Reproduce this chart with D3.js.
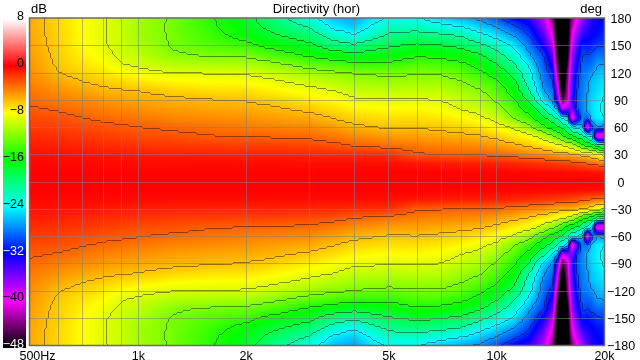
<!DOCTYPE html>
<html><head><meta charset="utf-8">
<script src="https://cdn.jsdelivr.net/npm/d3@7"></script>
<style>
html,body{margin:0;padding:0;background:#fff;overflow:hidden}
#wrap{position:relative;width:640px;height:360px}
canvas,svg{position:absolute;left:0;top:0}
text{font-family:"Liberation Sans",sans-serif;fill:#000}
</style></head><body><div id="wrap"><canvas id="heat" width="640" height="360"></canvas><svg id="chart" width="640" height="360"></svg></div>
<script>
const chartTitle = "Directivity (hor)";
const freqs = [500,600,700,800,900,1000,1250,1600,2000,2300,3000,3500,4000,4500,5000,6000,7000,8000,9000,10000,11200,12400,13600,14350,14800,15300,15800,16300,16850,17400,18000,18500,19150,20000];
const angles = [0,10,20,30,40,50,60,70,80,90,100,110,120,130,140,150,160,170,180];
const freqTicks = [500,1000,2000,5000,10000,20000];
const freqTickLabels = ["500Hz","1k","2k","5k","10k","20k"];
const freqGrid = [600,700,800,900,1000,2000,3000,4000,5000,6000,7000,8000,9000,10000];
const angleTicks = [180,150,120,90,60,30,0,-30,-60,-90,-120,-150,-180];
const dbTicks = [8,0,-8,-16,-24,-32,-40,-48];
const whiteDbLabels = [-32,-48];
const contourLevels = [-3,-6,-9,-12,-15,-18,-21,-24,-27,-30];
const colorStops = [8,0,-8,-16,-24,-32,-40,-48];
const colorValues = ["#ffffff","#ff0000","#ffff00","#00ff00","#00ffff","#0000ff","#ff00ff","#000000"];
// level in dB, one list per frequency, angle 0..180 in 10 degree steps
const levels = [
[0,-.05,-.2,-.5,-.9,-1.3,-1.8,-2.3,-2.8,-3.3,-3.7,-4.1,-4.4,-4.7,-4.9,-5.1,-5.2,-5.3,-5.3],
[0,-.05,-.25,-.55,-1,-1.5,-2,-2.5,-3.15,-3.9,-4.5,-5.2,-5.95,-6.3,-6.5,-6.6,-6.7,-6.75,-6.8],
[0,-.05,-.25,-.65,-1.2,-1.7,-2.3,-2.95,-3.6,-4.3,-5.1,-5.95,-6.7,-7.2,-7.6,-7.9,-8,-8,-8],
[0,-.05,-.3,-.75,-1.3,-1.9,-2.55,-3.3,-4,-4.8,-5.6,-6.4,-7.2,-7.9,-8.5,-8.8,-8.9,-8.9,-8.8],
[0,-.05,-.3,-.8,-1.4,-2.1,-2.75,-3.5,-4.3,-5.1,-5.8,-6.8,-7.9,-8.95,-9.4,-9.7,-9.8,-9.8,-9.7],
[0,-.05,-.35,-.9,-1.6,-2.3,-2.95,-3.7,-4.5,-5.25,-6,-7.2,-8.4,-9.4,-10,-10.5,-10.8,-10.8,-10.7],
[0,-.05,-.35,-1,-1.8,-2.5,-3.3,-4.2,-4.9,-5.6,-6.6,-7.8,-8.95,-10.4,-11.7,-12.2,-12.3,-12.4,-12.3],
[0,-.05,-.35,-1.05,-1.9,-2.9,-3.6,-4.4,-5.2,-5.9,-7,-8,-9.1,-10.7,-12.3,-13.4,-14.1,-14.6,-14.8],
[0,-.05,-.35,-1.05,-2,-3.05,-3.9,-4.6,-5.4,-6.1,-7.1,-8.1,-9.2,-10.8,-12.5,-14.2,-15.8,-16.6,-17],
[0,-.05,-.35,-1.05,-2,-3.1,-4,-4.9,-5.6,-6.45,-7.5,-8.5,-9.7,-11.4,-13.4,-15.6,-17.2,-18.4,-19.5],
[0,-.05,-.4,-1.15,-2.2,-3.3,-4.35,-5.3,-6.35,-7.35,-8.35,-9.55,-11.05,-13,-15.5,-17.3,-19.2,-21.1,-23],
[0,-.05,-.4,-1.2,-2.5,-3.8,-4.9,-6,-6.97,-7.95,-8.9,-10.25,-11.6,-13.8,-16.6,-19.5,-22,-24.4,-25.8],
[0,-.05,-.4,-1.3,-3.05,-4.35,-5.6,-6.65,-7.65,-8.65,-9.8,-10.9,-12.1,-14.55,-17.25,-20.45,-23.5,-25.5,-26.8],
[0,-.05,-.45,-1.35,-3.3,-4.6,-5.9,-6.85,-7.85,-8.75,-9.9,-11.05,-12.3,-14.6,-16.9,-19.1,-21.8,-23.6,-24.9],
[0,-.05,-.45,-1.4,-3.55,-4.85,-6.2,-7.05,-8,-8.9,-10.1,-11.2,-12.55,-14.6,-16.5,-18.3,-20.3,-22,-23.6],
[0,-.05,-.7,-2.8,-3.9,-5.05,-6.1,-7,-7.9,-8.8,-9.9,-11.05,-12.2,-13.7,-15.35,-17.4,-19.65,-21.9,-23.8],
[0,-.1,-.8,-2.95,-4.15,-5.3,-6.4,-7.3,-8.15,-9.05,-10.1,-11.2,-12.2,-13.8,-15.8,-17.9,-20.1,-22.9,-25.4],
[0,-.1,-.9,-3.1,-4.3,-5.55,-6.7,-7.75,-9.05,-9.9,-10.9,-11.9,-13.05,-14.6,-16.5,-18.6,-21,-23.8,-26.4],
[0,-.1,-.9,-3.1,-4.45,-5.8,-7.2,-8.55,-9.7,-10.7,-11.7,-13.05,-14.55,-16.1,-17.75,-20.25,-22.95,-25.3,-27.5],
[0,-.15,-1,-3.3,-4.9,-6.45,-8.05,-9.6,-11,-12.3,-13.45,-14.65,-16.2,-17.9,-20,-22.2,-24.65,-26.9,-29.5],
[0,-.15,-1.2,-3.65,-5.55,-7.45,-9.35,-12,-13.35,-14.7,-16.05,-17.45,-19,-20.9,-22.7,-24.5,-26.9,-29.2,-32],
[0,-.2,-1.4,-4.2,-6.3,-8.2,-11.3,-14.1,-16.4,-18.7,-21.25,-22.6,-23.45,-24.9,-26.9,-28.4,-29.95,-31.6,-33.5],
[0,-.25,-1.6,-4.5,-7.2,-10.2,-14.3,-17.5,-20.7,-25.3,-27,-28,-28.8,-29.5,-30.3,-32.5,-34.5,-36.5,-38],
[0,-.3,-1.8,-5,-7.8,-11.6,-16.3,-19.5,-24.7,-27.6,-28.6,-29.6,-31,-33,-35,-37.5,-40,-42,-44],
[0,-.3,-1.9,-5.2,-8.4,-12.7,-17.6,-21.5,-27,-34,-37,-40,-43,-45,-47,-48,-50,-50,-50],
[0,-.3,-2,-5.5,-8.9,-14.2,-18.7,-23.7,-38,-46,-50,-52,-53,-54,-55,-55,-55,-55,-55],
[0,-.35,-2.1,-5.3,-9.6,-16.2,-20.5,-26,-36,-42,-43,-44,-45,-47,-49,-50,-50,-50,-50],
[0,-.35,-2.3,-5.5,-10.7,-17,-24,-42,-36,-33,-33.5,-34,-35,-36,-37,-38.5,-40,-42,-44],
[0,-.35,-2.5,-5.8,-12.2,-18.8,-24.5,-34,-29.5,-29.4,-29.6,-30.2,-31,-32,-33,-34.5,-36,-38,-40],
[0,-.4,-2.7,-6.5,-14.5,-20.3,-26.5,-28,-28,-27.8,-28,-28.2,-28.5,-29,-29.8,-31,-33,-35,-37],
[0,-.4,-3,-6.7,-16,-22.5,-42,-29,-26,-26.5,-27,-27.3,-28,-29,-30,-31.5,-32.5,-33.5,-34.5],
[0,-.45,-3.3,-7.5,-17,-25,-30,-25.5,-25,-25.2,-25.7,-26,-27.2,-28.5,-29.5,-31,-32,-32.5,-33],
[0,-.5,-3.5,-8.3,-20,-42,-27,-24.5,-24.3,-24.5,-25,-25.4,-26.2,-27.2,-28.6,-30.2,-31.5,-32,-32.5],
[0,-.6,-4,-9.7,-20.7,-42,-28,-24,-23.5,-23.7,-24.3,-24.8,-25.5,-27,-28.7,-30,-31,-31.5,-32]
];

const x = d3.scaleLog().domain([500,20000]).range([30,604]);
const y = d3.scaleLinear().domain([180,-180]).range([18,345]);
const barY = d3.scaleLinear().domain([8,-48]).range([19,347]);
const barLabelY = d3.scaleLinear().domain([8,-48]).range([19.3,347.3]);
const color = d3.scaleLinear().domain(colorStops).range(colorValues).clamp(true);

const logF = freqs.map(Math.log);
function level(px,py){
  const lf = Math.log(x.invert(px));
  const a = Math.min(180,Math.abs(y.invert(py)));
  let i = d3.bisectRight(logF,lf)-1; i = Math.max(0,Math.min(freqs.length-2,i));
  const t = Math.max(0,Math.min(1,(lf-logF[i])/(logF[i+1]-logF[i])));
  let j = Math.min(angles.length-2,Math.floor(a/10));
  const u = (a-angles[j])/(angles[j+1]-angles[j]);
  const a0 = levels[i][j]*(1-t)+levels[i+1][j]*t;
  const a1 = levels[i][j+1]*(1-t)+levels[i+1][j+1]*t;
  return a0*(1-u)+a1*u;
}

// heat map
const [x0,x1] = x.range(), [y0,y1] = y.range();
const ctx = document.getElementById("heat").getContext("2d");
ctx.fillStyle="#fff"; ctx.fillRect(0,0,640,360);
for(let px=x0;px<x1+1;px++){
  for(let py=y0;py<y1+1;py++){
    ctx.fillStyle = color(level(px+.5,py+.5));
    ctx.fillRect(px,py,1,1);
  }
}
// colour bar
for(let py=19;py<348;py++){
  ctx.fillStyle = color(barY.invert(py+.5));
  ctx.fillRect(3,py,23,1);
}

const svg = d3.select("#chart");
svg.append("defs").append("clipPath").attr("id","plot").append("rect")
  .attr("x",x0).attr("y",y0).attr("width",x1-x0+1).attr("height",y1-y0+1);

// contours: the grid is padded so the outer rim falls outside the clip
const cell = 2;
const pad = 2;
const gw = Math.ceil((x1-x0)/cell)+pad*2+1, gh = Math.ceil((y1-y0)/cell)+pad*2+1;
const field = new Float64Array(gw*gh);
for(let r=0;r<gh;r++)for(let c=0;c<gw;c++){
  const px = Math.max(x0,Math.min(x1,x0+(c-pad+.5)*cell));
  const py = Math.max(y0,Math.min(y1,y0+(r-pad+.5)*cell));
  field[r*gw+c] = level(px,py);
}
const cont = d3.contours().size([gw,gh]).smooth(false).thresholds(contourLevels)(field);
const proj = d3.geoTransform({point(a,b){this.stream.point(x0+(a-pad)*cell+.5,y0+(b-pad)*cell+.5);}});
svg.append("g").attr("clip-path","url(#plot)")
  .selectAll("path").data(cont).join("path")
  .attr("d",d3.geoPath(proj)).attr("fill","none")
  .attr("stroke","rgba(0,0,0,.45)").attr("stroke-width",1);

// grid
const gridX = d3.axisBottom(x).tickValues(freqGrid).tickSize(y0-y1).tickFormat("");
const gx = svg.append("g").attr("transform",`translate(0,${y1})`).call(gridX);
gx.select(".domain").remove();
gx.selectAll("line").attr("stroke","rgba(128,128,128,.55)").attr("shape-rendering","crispEdges");
const gridY = d3.axisLeft(y).tickValues(angleTicks.slice(1,-1)).tickSize(x0-x1).tickFormat("");
const gy = svg.append("g").attr("transform",`translate(${x0},0)`).call(gridY);
gy.select(".domain").remove();
gy.selectAll("line").attr("stroke","rgba(128,128,128,.55)").attr("shape-rendering","crispEdges");

// frame
svg.append("rect").attr("x",x0-.5).attr("y",y0).attr("width",x1-x0+1).attr("height",y1-y0+.5)
  .attr("fill","none").attr("stroke","#6a6a6a").attr("stroke-width",1.5);

// axes labels
const tickFont = "12.5px", titleFont = "13px";
const fmtX = d=>freqTickLabels[freqTicks.indexOf(d)];
const ax = svg.append("g").attr("transform",`translate(0,${y1})`)
  .call(d3.axisBottom(x).tickValues(freqTicks).tickSize(0).tickFormat(fmtX));
ax.select(".domain").remove();
ax.selectAll("text").attr("y",5).attr("dy","10px").style("font-size",tickFont).style("font-family",null).attr("fill","#000")
  .attr("dx",d=>d===500?7:0);
const ar = svg.append("g").attr("transform","translate(621,0)")
  .call(d3.axisRight(y).tickValues(angleTicks).tickSize(0));
ar.select(".domain").remove();
ar.selectAll("text").attr("x",0).attr("text-anchor","middle").attr("dy","4.5px").style("font-size",tickFont).style("font-family",null).attr("fill","#000");
const al = svg.append("g").attr("transform","translate(24,0)")
  .call(d3.axisLeft(barLabelY).tickValues(dbTicks).tickSize(0));
al.select(".domain").remove();
al.selectAll("text").attr("x",0).attr("text-anchor","end").attr("dy","0.5px").style("font-size",tickFont).style("font-family",null)
  .style("fill",d=>whiteDbLabels.includes(d)?"#fff":"#000");

svg.append("text").attr("x",316.5).attr("y",13).attr("text-anchor","middle").style("font-size",titleFont).text(chartTitle);
svg.append("text").attr("x",31).attr("y",13).style("font-size",titleFont).text("dB");
svg.append("text").attr("x",602).attr("y",13).attr("text-anchor","end").style("font-size",titleFont).text("deg");
</script></body></html>
